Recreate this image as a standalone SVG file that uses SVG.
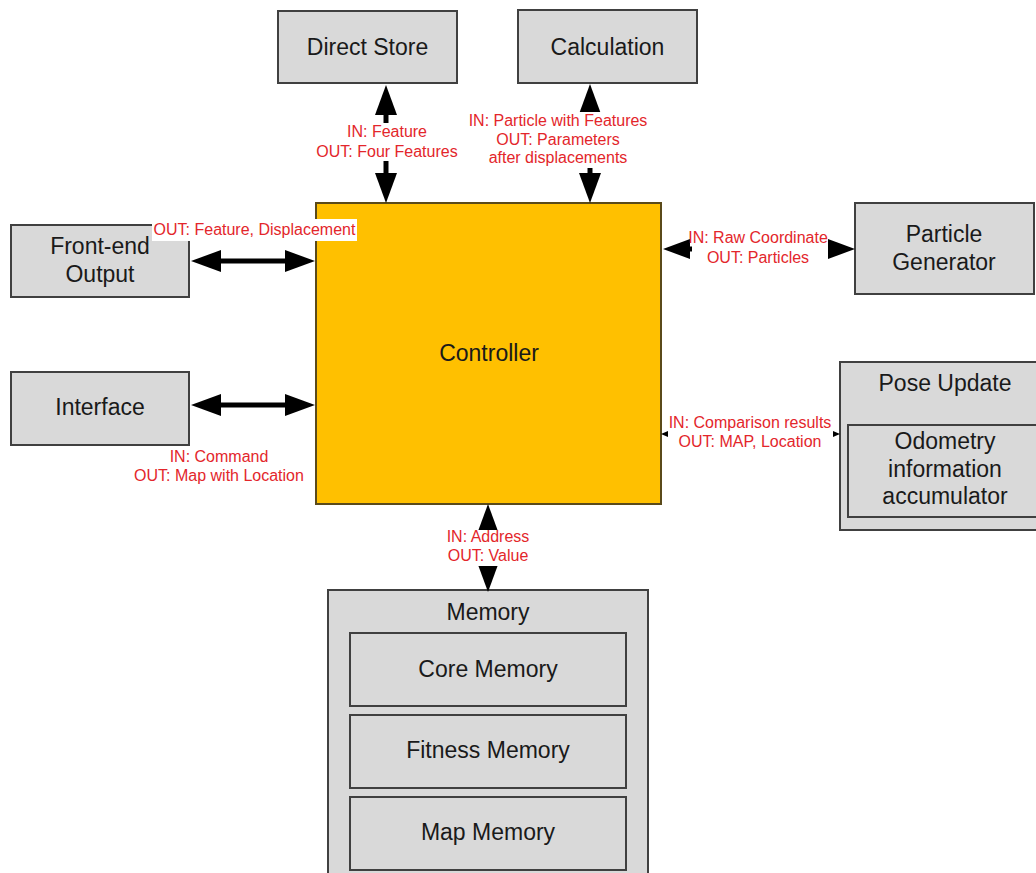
<svg xmlns="http://www.w3.org/2000/svg" width="1036" height="873" viewBox="0 0 1036 873">
<style>
.box{fill:#D9D9D9;stroke:#404040;stroke-width:2}
.ctrl{fill:#FFC000;stroke:#5A4A1A;stroke-width:2}
.t{font-family:"Liberation Sans",Arial,sans-serif;font-size:23px;fill:#1a1a1a;text-anchor:middle}
.lbl{font-family:"Liberation Sans",Arial,sans-serif;font-size:16px;fill:#E3262B;text-anchor:middle}
.bg{fill:#FFFFFF}
.sh{stroke:#000;stroke-width:5;fill:none}
.shs{stroke:#000;stroke-width:1.5;fill:none}
</style>
<defs>
<marker id="ah" viewBox="0 0 30 22" refX="0" refY="11" markerWidth="30" markerHeight="22" markerUnits="userSpaceOnUse" orient="auto-start-reverse">
<path d="M0,0 L30,11 L0,22 Z" fill="#000"/>
</marker>
<marker id="am" viewBox="0 0 27 20" refX="0" refY="10" markerWidth="27" markerHeight="20" markerUnits="userSpaceOnUse" orient="auto-start-reverse">
<path d="M0,0 L27,10 L0,20 Z" fill="#000"/>
</marker>
<marker id="as" viewBox="0 0 7 6" refX="0" refY="3" markerWidth="7" markerHeight="6" markerUnits="userSpaceOnUse" orient="auto-start-reverse">
<path d="M0,0 L7,3 L0,6 Z" fill="#000"/>
</marker>
</defs>
<rect width="1036" height="873" fill="#FFFFFF"/>

<g id="direct-store">
<rect class="box" x="278" y="11" width="179" height="72"/>
<text class="t" x="367.5" y="55">Direct Store</text>
</g>
<g id="calculation">
<rect class="box" x="518" y="10" width="179" height="73"/>
<text class="t" x="607.5" y="55">Calculation</text>
</g>
<g id="front-end-output">
<rect class="box" x="11" y="225" width="178" height="72"/>
<text class="t" x="100" y="254">Front-end</text>
<text class="t" x="100" y="282">Output</text>
</g>
<g id="interface">
<rect class="box" x="11" y="372" width="178" height="73"/>
<text class="t" x="100" y="415">Interface</text>
</g>
<g id="particle-generator">
<rect class="box" x="855" y="203" width="179" height="91"/>
<text class="t" x="944" y="242">Particle</text>
<text class="t" x="944" y="270">Generator</text>
</g>
<g id="pose-update">
<rect class="box" x="840" y="362" width="210" height="168"/>
<text class="t" x="945" y="391">Pose Update</text>
<g id="odometry">
<rect class="box" x="848" y="425" width="200" height="92"/>
<text class="t" x="945" y="449">Odometry</text>
<text class="t" x="945" y="477">information</text>
<text class="t" x="945" y="504">accumulator</text>
</g>
</g>
<g id="controller">
<rect class="ctrl" x="316" y="203" width="345" height="301"/>
<text class="t" x="489" y="361">Controller</text>
</g>
<g id="memory">
<rect class="box" x="328" y="590" width="320" height="300"/>
<text class="t" x="488" y="620">Memory</text>
<g id="core-memory">
<rect class="box" x="350" y="633" width="276" height="73"/>
<text class="t" x="488" y="677">Core Memory</text>
</g>
<g id="fitness-memory">
<rect class="box" x="350" y="715" width="276" height="73"/>
<text class="t" x="488" y="758">Fitness Memory</text>
</g>
<g id="map-memory">
<rect class="box" x="350" y="797" width="276" height="73"/>
<text class="t" x="488" y="840">Map Memory</text>
</g>
</g>

<g id="connectors">
<path class="sh" d="M386,115 L386,173" marker-start="url(#ah)" marker-end="url(#ah)"/>
<path class="sh" d="M590,114 L590,173" marker-start="url(#ah)" marker-end="url(#ah)"/>
<path class="sh" d="M221,261 L285,261" marker-start="url(#ah)" marker-end="url(#ah)"/>
<path class="sh" d="M221,405 L285,405" marker-start="url(#ah)" marker-end="url(#ah)"/>
<path class="sh" d="M690,249 L828,249" marker-start="url(#am)" marker-end="url(#am)"/>
<path class="shs" d="M668,434 L833,434" marker-start="url(#as)" marker-end="url(#as)"/>
<path class="sh" d="M488,534 L488,562" marker-start="url(#ah)" marker-end="url(#ah)"/>

<rect class="bg" x="308" y="123" width="156" height="38"/>
<text class="lbl" x="387" y="137">IN: Feature</text>
<text class="lbl" x="387" y="157">OUT: Four Features</text>

<rect class="bg" x="466" y="112" width="186" height="56"/>
<text class="lbl" x="558" y="126">IN: Particle with Features</text>
<text class="lbl" x="558" y="145">OUT: Parameters</text>
<text class="lbl" x="558" y="163">after displacements</text>

<rect class="bg" x="152" y="219" width="205" height="22"/>
<text class="lbl" x="254.5" y="235">OUT: Feature, Displacement</text>

<rect class="bg" x="692" y="233" width="136" height="34"/>
<text class="lbl" x="758" y="243">IN: Raw Coordinate</text>
<text class="lbl" x="758" y="263">OUT: Particles</text>

<text class="lbl" x="219" y="462">IN: Command</text>
<text class="lbl" x="219" y="481">OUT: Map with Location</text>

<rect class="bg" x="668" y="414" width="165" height="38"/>
<text class="lbl" x="750" y="428">IN: Comparison results</text>
<text class="lbl" x="750" y="447">OUT: MAP, Location</text>

<rect class="bg" x="443" y="530" width="90" height="36"/>
<text class="lbl" x="488" y="542">IN: Address</text>
<text class="lbl" x="488" y="561">OUT: Value</text>
</g>
</svg>
